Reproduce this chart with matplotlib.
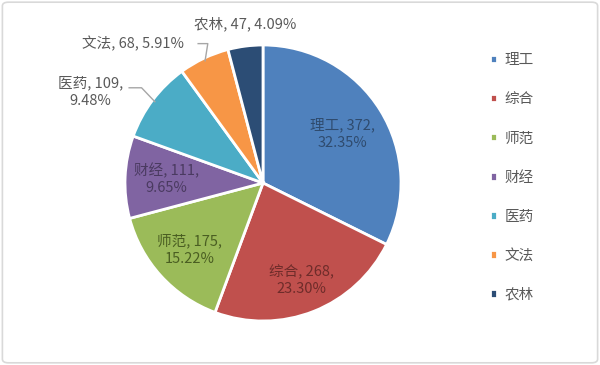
import matplotlib
matplotlib.use('Agg')
import matplotlib.pyplot as plt
import numpy as np
from matplotlib.patches import FancyBboxPatch

plt.rcParams['font.family'] = ['Noto Sans CJK SC', 'DejaVu Sans']

# 数据
categories = ['理工', '综合', '师范', '财经', '医药', '文法', '农林']
counts = [372, 268, 175, 111, 109, 68, 47]
percents = ['32.35%', '23.30%', '15.22%', '9.65%', '9.48%', '5.91%', '4.09%']
colors = ['#4F81BD', '#C0504D', '#9BBB59', '#8064A2', '#4BACC6', '#F79646', '#2C4D75']
text_colors = ['#2F4B6E', '#6E2C2A', '#4A5E22', '#4A3A60', '#595959', '#595959', '#595959']

fig = plt.figure(figsize=(6, 3.65), dpi=100)

# 外框
fig.patches.append(FancyBboxPatch((0.004, 0.006), 0.992, 0.988,
                                  boxstyle='round,pad=0,rounding_size=0.01',
                                  transform=fig.transFigure, facecolor='white',
                                  edgecolor='#D9D9D9', linewidth=1.2, zorder=-1))

cx, cy, r = 263, 183, 138
ax = fig.add_axes([(cx - r) / 600, (365 - cy - r) / 365, 2 * r / 600, 2 * r / 365])
wedges, _ = ax.pie(counts, colors=colors, startangle=90, counterclock=False,
                   wedgeprops=dict(edgecolor='white', linewidth=2))
ax.set_xlim(-1, 1)
ax.set_ylim(-1, 1)
ax.axis('off')

# 内部标签
for i in range(4):
    w = wedges[i]
    ang = np.deg2rad((w.theta1 + w.theta2) / 2)
    d = [0.68, 0.76, 0.72, 0.70][i]
    ax.text(d * np.cos(ang), d * np.sin(ang),
            f'{categories[i]}, {counts[i]},\n{percents[i]}',
            ha='center', va='center', fontsize=10.5, color=text_colors[i],
            linespacing=1.3)

# 外部标签（带引导线）
outside = {4: ((-1.25, 0.66), True, True),
           5: ((-0.94, 1.01), False, True),
           6: ((-0.13, 1.15), False, False)}
for i, (pos, wrap, line) in outside.items():
    w = wedges[i]
    ang = np.deg2rad((w.theta1 + w.theta2) / 2)
    sep = ',\n' if wrap else ', '
    txt = f'{categories[i]}, {counts[i]}{sep}{percents[i]}'
    ax.text(pos[0], pos[1], txt, ha='center', va='center', fontsize=10.5,
            color='#595959', linespacing=1.3, clip_on=False)
    if line:
        ex, ey = 0.98 * np.cos(ang), 0.98 * np.sin(ang)
        if i == 4:
            xs, ys = [-0.97, -0.88, ex], [0.69, 0.69, ey]
        else:
            xs, ys = [-0.47, -0.40, ex], [1.01, 1.01, ey]
        ax.plot(xs, ys, color='#A6A6A6', linewidth=1, clip_on=False)

# 图例
leg = fig.legend(wedges, categories, loc='upper left', bbox_to_anchor=(0.795, 0.89),
                 frameon=False, fontsize=10.5, handlelength=0.5, handleheight=0.5,
                 handletextpad=0.5, labelspacing=1.72, labelcolor='#595959')

fig.savefig('out.png', dpi=100)
